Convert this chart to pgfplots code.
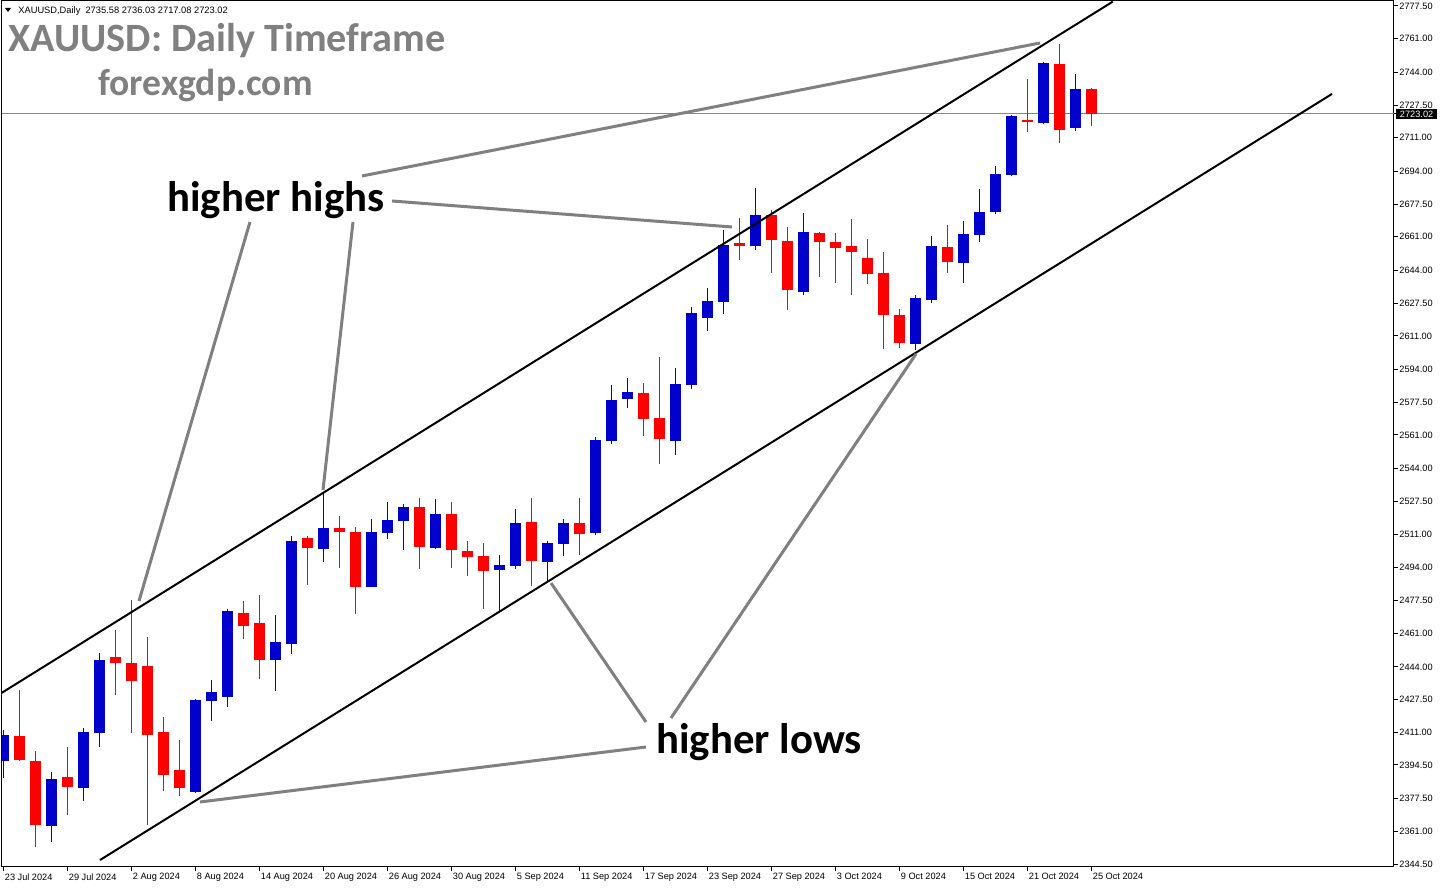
\documentclass[border=0pt]{standalone}
\usepackage{fontspec}
\setmainfont{Liberation Sans}
\newfontfamily\calibri{Carlito}
\usepackage{pgfplots}
\pgfplotsset{compat=1.18}
\usepackage{pgfplotstable}

\definecolor{mtblue}{RGB}{0,0,205}
\definecolor{mtred}{RGB}{255,0,0}
\definecolor{anngray}{RGB}{128,128,128}
\definecolor{bidline}{RGB}{119,136,153}

% daily candles, bar index 0 = 23 Jul 2024
\pgfplotstableread{
i  O       H       L       C
0  2396.6  2412.1  2388.1  2409.6
3  2363.8  2390.9  2355.8  2387.4
5  2383.0  2413.1  2376.5  2411.1
6  2410.8  2451.0  2403.7  2447.5
12 2381.0  2427.8  2380.5  2427.3
13 2426.9  2437.4  2416.8  2431.3
14 2428.9  2473.2  2423.9  2472.2
17 2447.6  2470.2  2432.0  2456.5
18 2455.7  2510.0  2450.6  2507.5
20 2503.6  2531.7  2497.1  2514.1
23 2484.4  2518.6  2484.4  2512.1
24 2511.7  2527.2  2508.7  2518.1
25 2517.8  2526.2  2503.1  2524.7
27 2504.1  2528.7  2503.6  2521.1
31 2493.0  2500.4  2472.3  2495.4
32 2495.0  2523.7  2493.5  2516.6
34 2497.1  2507.5  2486.5  2506.5
35 2506.2  2518.6  2500.1  2516.6
37 2511.7  2560.0  2510.7  2558.5
38 2558.1  2586.2  2556.6  2578.7
39 2579.2  2589.8  2574.6  2582.7
42 2558.1  2594.8  2551.1  2586.7
43 2586.2  2625.6  2584.4  2622.6
44 2620.2  2635.2  2613.6  2628.6
45 2628.3  2664.5  2622.2  2656.9
47 2656.5  2685.7  2654.5  2672.0
50 2633.3  2673.0  2631.8  2663.4
57 2607.1  2631.7  2604.1  2630.1
58 2629.3  2661.4  2627.8  2656.4
60 2648.0  2669.0  2637.9  2662.4
61 2662.1  2685.1  2658.5  2673.5
62 2673.7  2696.8  2672.7  2692.7
63 2692.4  2722.5  2691.7  2722.0
65 2718.5  2749.0  2718.0  2748.7
67 2716.1  2743.2  2714.6  2735.6
}\upbars

\pgfplotstableread{
i  O        H        L        C
1  2409.1   2432.3   2396.5   2397.0
2  2396.5   2401.5   2353.2   2364.3
4  2388.4   2403.7   2369.2   2383.5
7  2449.0   2462.6   2429.8   2446.1
8  2445.9   2477.7   2410.8   2437.0
9  2444.4   2459.1   2364.2   2409.8
10 2411.1   2418.8   2381.5   2389.6
11 2391.9   2407.1   2379.0   2383.0
15 2471.2   2477.2   2458.1   2464.6
16 2466.2   2480.3   2437.9   2447.6
19 2509.0   2510.0   2485.5   2504.1
21 2514.1   2520.1   2494.0   2512.2
22 2512.1   2514.6   2470.8   2484.4
26 2524.7   2529.2   2493.5   2504.6
28 2521.1   2527.2   2494.0   2503.1
29 2502.5   2507.5   2490.0   2499.6
30 2499.9   2506.5   2473.3   2492.5
33 2517.1   2529.2   2485.0   2497.6
36 2516.6   2529.2   2500.6   2511.2
40 2582.2   2587.2   2560.6   2569.2
41 2569.6   2600.4   2546.5   2559.1
46 2657.9   2670.5   2649.5   2656.5
48 2672.0   2674.6   2642.9   2659.6
49 2658.9   2666.0   2624.2   2634.3
51 2662.9   2663.4   2640.9   2658.5
52 2658.4   2662.9   2637.9   2655.5
53 2656.4   2670.0   2631.8   2653.5
54 2650.3   2659.9   2637.4   2642.4
55 2642.8   2653.5   2604.6   2621.7
56 2621.6   2624.6   2605.1   2607.6
59 2655.9   2667.0   2642.9   2648.5
64 2720.1   2740.7   2714.1   2719.0
66 2748.2   2758.3   2708.5   2715.1
68 2735.58  2736.03  2717.08  2723.02
}\downbars

\pgfplotsset{
  candle/.style 2 args={color=#1, draw=none, mark=none, forget plot,
    error bars/.cd, y dir=plus, y explicit, error mark=none,
    error bar style={solid, draw=#1, line width=#2}},
}

\begin{document}
\begin{tikzpicture}
\path[use as bounding box, fill=white] (0,0) rectangle (720pt,444pt);
\begin{axis}[
  at={(1pt,10.5pt)}, anchor=south west,
  width=696pt, height=433pt, scale only axis,
  xmin=-0.09375, xmax=86.90625,
  ymin=2342.99, ymax=2780.02,
  axis line style={line width=0.5pt},
  xtick pos=bottom, ytick pos=right, yticklabel pos=right,
  tick align=outside, major tick length=2pt,
  every tick/.style={black, line width=0.5pt},
  tick label style={font=\fontsize{4.6}{5}\selectfont},
  xtick={0,4,...,68},
  xticklabels={23 Jul 2024,29 Jul 2024,2 Aug 2024,8 Aug 2024,14 Aug 2024,20 Aug 2024,26 Aug 2024,30 Aug 2024,5 Sep 2024,11 Sep 2024,17 Sep 2024,23 Sep 2024,27 Sep 2024,3 Oct 2024,9 Oct 2024,15 Oct 2024,21 Oct 2024,25 Oct 2024},
  xticklabel style={anchor=north west, inner sep=0.5pt, yshift=-0.5pt},
  ytick={2344.5,2361,2377.5,2394.5,2411,2427.5,2444,2461,2477.5,2494,2511,2527.5,2544,2561,2577.5,2594,2611,2627.5,2644,2661,2677.5,2694,2711,2727.5,2744,2761,2777.5},
  yticklabel style={anchor=west, inner sep=0.5pt},
  y tick label style={/pgf/number format/fixed, /pgf/number format/fixed zerofill,
    /pgf/number format/precision=2, /pgf/number format/1000 sep={},
    /pgf/number format/assume math mode=true},
  extra y ticks={2723.02},
  extra y tick style={yticklabel style={fill=black, text=white, inner xsep=1.8pt, inner ysep=0.9pt, xshift=-1pt}},
]
% bid line
\addplot[bidline, line width=0.5pt, forget plot] coordinates {(-1,2723.02) (90,2723.02)};
% wicks
\addplot[candle={mtblue}{0.5pt}] table[x=i, y=L, y error plus expr=\thisrow{H}-\thisrow{L}] {\upbars};
\addplot[candle={mtred}{0.5pt}] table[x=i, y=L, y error plus expr=\thisrow{H}-\thisrow{L}] {\downbars};
% bodies
\addplot[candle={mtblue}{5.5pt}] table[x=i, y=O, y error plus expr=\thisrow{C}-\thisrow{O}] {\upbars};
\addplot[candle={mtred}{5.5pt}] table[x=i, y=C, y error plus expr=\thisrow{O}-\thisrow{C}] {\downbars};
% channel
\addplot[black, line width=1pt, forget plot] coordinates {(-1,2426.4) (69.33,2779.7)};
\addplot[black, line width=1pt, forget plot] coordinates {(6.03,2346.5) (83.03,2733.1)};
\end{axis}

\begin{scope}[x=0.5pt, y=-0.5pt, shift={(0pt,444pt)}]
  \fill (5,8) -- (11,8) -- (8,12) -- cycle;
  \node[anchor=base west, inner sep=0, font=\fontsize{4.65}{5}\selectfont] at (18,14)
    {XAUUSD,Daily\ \ 2735.58 2736.03 2717.08 2723.02};
  \node[anchor=base west, inner sep=0, text=anngray, font=\calibri\bfseries\fontsize{20.1}{24}\selectfont]
    at (8,52) {XAUUSD: Daily Timeframe};
  \node[anchor=base west, inner sep=0, text=anngray, font=\calibri\bfseries\fontsize{18.8}{24}\selectfont]
    at (98,96) {forexgdp.com};
  \begin{scope}[anngray, line width=1.5pt]
    \draw (362,176) -- (1040,43);
    \draw (392,201) -- (732,227);
    \draw (250,222) -- (139,601);
    \draw (353,222) -- (323,490);
    \draw (646,722) -- (551,583);
    \draw (671,718) -- (916,354);
    \draw (646,747) -- (200,802);
  \end{scope}
  \node[anchor=base west, inner sep=0, font=\calibri\bfseries\fontsize{21.4}{24}\selectfont]
    at (167,212) {higher highs};
  \node[anchor=base west, inner sep=0, font=\calibri\bfseries\fontsize{21.4}{24}\selectfont]
    at (656,754) {higher lows};
\end{scope}
\end{tikzpicture}
\end{document}
